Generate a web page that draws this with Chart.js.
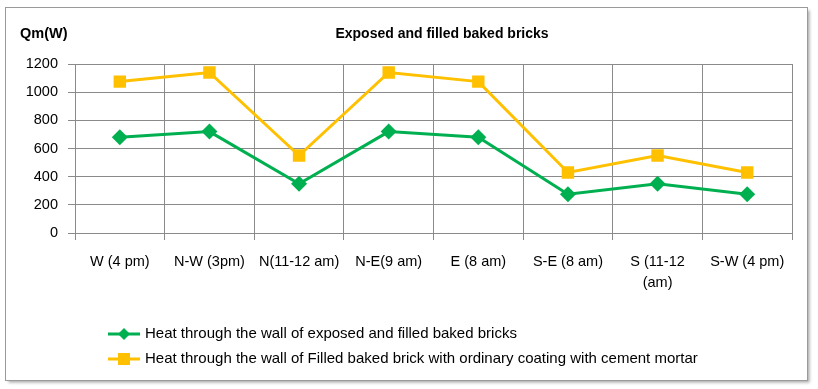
<!DOCTYPE html>
<html>
<head>
<meta charset="utf-8">
<script src="https://cdn.jsdelivr.net/npm/chart.js@4/dist/chart.umd.min.js"></script>
<style>
  html, body { margin: 0; padding: 0; background: #fff; }
  #grafico { display: block; }
</style>
</head>
<body>
<canvas id="grafico" width="818" height="389"></canvas>
<script>
// datos
const orientaciones = [
  "W (4 pm)",
  "N-W (3pm)",
  "N(11-12 am)",
  "N-E(9 am)",
  "E (8 am)",
  "S-E (8 am)",
  ["S (11-12", "(am)"],
  "S-W (4 pm)",
];
const calorExpuesto = [680, 720, 350, 720, 680, 275, 350, 275];
const calorRevocado = [1075, 1140, 550, 1140, 1075, 430, 550, 430];
const ticksY = [0, 200, 400, 600, 800, 1000, 1200];

const titulo = "Exposed and filled baked bricks";
const tituloY = "Qm(W)";
const nombreExpuesto = "Heat through the wall of exposed and filled baked bricks";
const nombreRevocado =
  "Heat through the wall of Filled baked brick with ordinary coating with cement mortar";

const fuente = "'Liberation Sans', Arial, sans-serif";
const gris = "#8a8a8a";

// marco, titulos y leyenda dibujados a mano
const marco = {
  id: "marco",
  beforeDraw(chart) {
    const ctx = chart.ctx;
    ctx.save();
    ctx.fillStyle = "#fff";
    ctx.fillRect(0, 0, chart.width, chart.height);
    ctx.shadowColor = "rgba(0,0,0,0.35)";
    ctx.shadowOffsetX = 2;
    ctx.shadowOffsetY = 2;
    ctx.shadowBlur = 3;
    ctx.fillRect(5.5, 7.5, 802, 373);
    ctx.shadowColor = "transparent";
    ctx.strokeStyle = "#9a9a9a";
    ctx.lineWidth = 1;
    ctx.strokeRect(5.5, 7.5, 802, 373);
    ctx.restore();
  },
  afterDraw(chart) {
    const ctx = chart.ctx;
    ctx.save();
    ctx.fillStyle = "#000";
    ctx.textBaseline = "middle";

    ctx.font = "bold 14px " + fuente;
    ctx.textAlign = "center";
    ctx.fillText(titulo, 442, 34);

    ctx.font = "bold 14.5px " + fuente;
    ctx.textAlign = "left";
    ctx.fillText(tituloY, 20, 34);

    // leyenda inferior en dos filas
    ctx.font = "15px " + fuente;
    chart.data.datasets.forEach((ds, i) => {
      const y = 334 + i * 25;
      ctx.strokeStyle = ds.borderColor;
      ctx.lineWidth = 3;
      ctx.beginPath();
      ctx.moveTo(108, y);
      ctx.lineTo(140, y);
      ctx.stroke();
      ctx.fillStyle = ds.borderColor;
      ctx.beginPath();
      if (ds.pointStyle === "rectRot") {
        ctx.moveTo(124, y - 6);
        ctx.lineTo(130, y);
        ctx.lineTo(124, y + 6);
        ctx.lineTo(118, y);
        ctx.closePath();
      } else {
        ctx.rect(118, y - 6, 12, 12);
      }
      ctx.fill();
      ctx.fillStyle = "#000";
      ctx.fillText(ds.label, 145, y);
    });
    ctx.restore();
  },
};

new Chart(document.getElementById("grafico"), {
  type: "line",
  data: {
    labels: orientaciones,
    datasets: [
      {
        label: nombreExpuesto,
        data: calorExpuesto,
        borderColor: "#00b050",
        backgroundColor: "#00b050",
        borderWidth: 3,
        pointStyle: "rectRot",
        pointRadius: 8,
        pointHoverRadius: 8,
        pointBorderWidth: 0,
        tension: 0,
      },
      {
        label: nombreRevocado,
        data: calorRevocado,
        borderColor: "#ffc000",
        backgroundColor: "#ffc000",
        borderWidth: 3,
        pointStyle: "rect",
        pointRadius: 8.8,
        pointHoverRadius: 8.8,
        pointBorderWidth: 0,
        tension: 0,
      },
    ],
  },
  options: {
    responsive: false,
    animation: false,
    layout: { padding: { left: 0, right: 26, top: 64, bottom: 0 } },
    plugins: {
      legend: { display: false },
      tooltip: { enabled: false },
      title: { display: false },
    },
    scales: {
      y: {
        min: 0,
        max: 1200,
        afterFit(scale) {
          scale.width = 75;
        },
        afterBuildTicks(scale) {
          scale.ticks = ticksY.map((v) => ({ value: v }));
        },
        grid: { color: gris, lineWidth: 1, tickLength: 7, drawTicks: true },
        border: { color: gris, width: 1 },
        ticks: {
          color: "#000",
          padding: 10,
          callback: (v) => String(v),
          font: { family: fuente, size: 14.5 },
        },
      },
      x: {
        offset: true,
        afterFit(scale) {
          scale.height = 156;
        },
        grid: { color: gris, lineWidth: 1, tickLength: 7, offset: true },
        border: { color: gris, width: 1 },
        ticks: {
          color: "#000",
          padding: 11,
          maxRotation: 0,
          autoSkip: false,
          font: { family: fuente, size: 14.5, lineHeight: 1.45 },
        },
      },
    },
  },
  plugins: [marco],
});
</script>
</body>
</html>
